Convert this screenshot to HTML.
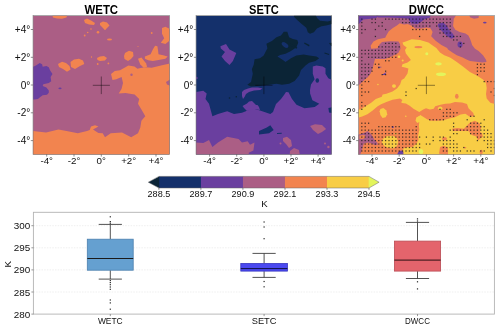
<!DOCTYPE html>
<html><head><meta charset="utf-8"><style>
html,body{margin:0;padding:0;background:#fff;}
svg{display:block;will-change:transform;transform:translateZ(0);}
text{font-family:"Liberation Sans",sans-serif;}
</style></head><body>
<svg width="500" height="329" viewBox="0 0 500 329" shape-rendering="geometricPrecision">
<rect width="500" height="329" fill="#fff"/>
<defs>
<clipPath id="cp0"><rect x="33.05" y="15.65" width="136.6" height="138.79999999999998"/></clipPath>
<clipPath id="cp1"><rect x="196.05" y="15.65" width="135.6" height="138.79999999999998"/></clipPath>
<clipPath id="cp2"><rect x="358.4" y="15.65" width="136.0" height="138.79999999999998"/></clipPath>
</defs>
<g clip-path="url(#cp0)">
<rect x="33.05" y="15.65" width="136.6" height="138.79999999999998" fill="#ab5e85"/>
<polygon points="111.0,74.0 114.8,71.0 120.0,70.2 125.4,67.2 128.4,65.6 134.5,66.4 137.5,68.7 140.6,68.0 145.0,67.2 151.7,67.8 163.0,64.9 171.0,63.3 171.0,156.0 32.0,156.0 32.0,131.0 46.0,132.6 58.5,129.4 66.5,131.0 77.9,133.3 87.0,131.0 89.7,129.9 91.0,126.4 95.0,125.3 98.4,126.4 93.0,129.5 98.4,133.0 102.7,133.3 105.0,137.2 110.7,133.3 122.0,132.6 131.2,137.2 138.0,133.3 140.3,127.6 141.4,120.8 145.3,116.2 142.6,111.6 138.0,103.7 139.2,99.1 134.6,94.5 125.5,93.0 118.7,93.5 121.5,89.0 123.0,83.0 121.6,77.0 116.3,79.3 112.5,80.0" fill="#f2844f" />
<ellipse cx="131.5" cy="74.8" rx="1.2" ry="1.2" fill="#ab5e85"/>
<polygon points="166.0,82.0 171.0,79.0 171.0,86.0 167.0,84.5" fill="#ab5e85" />
<polygon points="52.0,14.0 67.5,14.0 66.5,17.5 62.0,18.8 57.0,18.6 53.0,17.5" fill="#f2844f" />
<polygon points="84.0,20.0 87.0,18.5 91.0,20.5 95.0,23.0 94.0,25.0 89.0,24.5 85.0,23.0" fill="#f2844f" />
<polygon points="100.0,23.0 103.0,21.6 107.0,22.5 109.5,25.5 107.0,28.0 105.0,30.2 102.0,27.0 100.0,25.0" fill="#f2844f" />
<ellipse cx="98" cy="32.3" rx="1.3" ry="1.3" fill="#f2844f"/>
<ellipse cx="91" cy="29" rx="0.8" ry="0.8" fill="#f2844f"/>
<ellipse cx="87.7" cy="32.5" rx="0.8" ry="0.8" fill="#f2844f"/>
<ellipse cx="84.7" cy="35.5" rx="0.9" ry="0.9" fill="#f2844f"/>
<ellipse cx="151.7" cy="33" rx="0.9" ry="0.9" fill="#f2844f"/>
<ellipse cx="138" cy="46.6" rx="0.5" ry="0.5" fill="#f2844f"/>
<ellipse cx="108.4" cy="63.4" rx="0.9" ry="0.9" fill="#f2844f"/>
<ellipse cx="91.5" cy="57" rx="0.7" ry="0.7" fill="#f2844f"/>
<ellipse cx="97.7" cy="64" rx="0.9" ry="0.9" fill="#f2844f"/>
<ellipse cx="109.5" cy="39.4" rx="2.5" ry="1" fill="#f2844f"/>
<polygon points="162.0,28.0 165.4,26.8 171.0,29.5 171.0,39.4 165.4,43.9 160.8,42.8 164.2,38.2 162.0,33.7" fill="#f2844f" />
<polygon points="125.0,53.0 129.0,50.7 133.0,52.0 133.5,56.0 131.0,59.0 128.0,61.0 124.5,59.0 124.0,56.0" fill="#f2844f" />
<polygon points="97.0,58.0 100.0,56.5 104.0,56.0 107.0,58.0 105.0,60.5 100.0,61.0 97.5,60.0" fill="#f2844f" />
<polygon points="138.0,58.7 141.4,57.6 146.0,63.3 147.1,66.7 143.7,67.8 140.3,64.4" fill="#f2844f" />
<polygon points="144.9,56.5 150.6,54.2 152.8,49.6 155.1,45.7 157.4,46.2 158.1,50.8 158.5,54.2 163.1,55.3 167.7,56.5 165.4,58.7 158.5,59.9 152.8,61.0 148.3,60.3 144.9,58.7" fill="#f2844f" />
<polygon points="58.0,64.0 62.0,61.7 66.0,63.0 69.5,66.0 70.6,69.5 67.0,71.7 63.0,69.0 59.0,67.0" fill="#f2844f" />
<polygon points="70.5,62.0 74.0,59.5 79.0,58.7 83.0,60.5 84.3,64.0 80.0,66.0 75.0,69.0 71.0,67.0" fill="#f2844f" />
<polygon points="32.0,67.3 35.0,66.0 37.9,64.3 39.7,63.0 42.1,64.3 42.7,66.7 46.4,66.0 48.8,67.3 50.0,70.3 52.5,74.0 50.6,77.0 51.2,81.3 48.8,83.1 43.3,84.3 42.7,86.1 46.4,87.4 48.8,90.4 48.8,92.8 47.0,94.7 42.7,95.3 40.3,97.1 37.9,98.9 34.2,99.5 32.0,99.5" fill="#6a3f9f" />
<ellipse cx="60" cy="88.4" rx="1.6" ry="0.8" fill="#6a3f9f"/>
</g>
<g clip-path="url(#cp1)">
<rect x="196.05" y="15.65" width="135.6" height="138.79999999999998" fill="#14306b"/>
<polygon points="281.0,35.5 283.8,31.8 287.3,31.8 289.1,37.3 292.8,39.1 297.3,40.0 298.2,42.8 296.4,47.3 291.0,51.0 285.5,53.7 280.1,55.0 277.4,56.4 282.9,60.0 285.5,61.9 291.0,58.2 296.4,55.5 303.7,54.6 309.1,55.5 316.4,56.4 319.2,58.2 315.5,61.0 309.1,62.8 305.5,65.5 301.0,70.0 299.1,75.5 294.6,81.0 289.1,83.7 282.0,84.7 276.5,83.8 269.2,84.7 261.9,85.6 251.0,86.5 247.3,84.7 251.0,82.0 252.8,73.8 251.9,69.2 253.7,64.7 254.6,59.2 260.0,58.3 263.7,55.5 267.4,48.2 266.4,43.7 271.9,41.0 276.5,37.3" fill="#0b2436" />
<ellipse cx="285" cy="45" rx="3.8" ry="2.0" fill="#14306b" transform="rotate(35 285 45)"/>
<polygon points="294.1,14.0 315.4,14.0 317.0,18.0 320.0,20.8 327.6,21.6 330.6,20.8 331.5,14.0 334.0,14.0 334.0,23.5 326.0,25.4 321.5,26.2 316.9,28.4 313.9,32.2 310.0,33.8 307.8,32.2 306.3,27.7 301.7,23.9 297.2,20.1 294.1,17.0" fill="#0b2436" />
<polygon points="304.6,42.4 309.5,45.0 309.0,46.5 304.0,43.5" fill="#0b2436" />
<polygon points="324.6,52.6 329.2,54.0 329.0,55.0 324.4,53.6" fill="#0b2436" />
<polygon points="329.0,43.0 333.0,42.8 333.0,46.4 331.0,46.0" fill="#0b2436" />
<polygon points="290.0,43.6 297.3,47.5 296.5,48.8 290.0,45.5" fill="#0b2436" />
<polygon points="194.0,92.3 203.3,90.7 206.7,93.4 205.5,99.1 209.0,103.7 212.4,116.2 218.0,113.9 227.2,111.2 234.0,113.9 242.0,112.8 247.7,110.5 252.3,108.2 260.0,110.5 270.3,113.9 273.0,112.0 276.0,104.0 281.0,99.0 284.0,95.0 286.0,92.0 288.5,92.3 292.0,99.0 296.5,104.8 304.5,108.2 314.7,107.0 319.3,103.7 312.4,100.2 310.1,93.4 310.0,90.0 311.0,84.6 314.6,79.2 312.8,73.7 312.8,66.4 316.4,65.5 322.8,66.4 325.5,68.2 325.5,73.7 328.3,78.3 332.0,80.0 334.0,80.0 334.0,156.0 194.0,156.0" fill="#6a3f9f" />
<ellipse cx="317.3" cy="80.5" rx="1.8" ry="2.2" fill="#14306b"/>
<polygon points="220.4,46.2 226.0,43.9 229.5,49.6 236.3,53.0 232.9,61.0 229.5,64.9 225.0,61.0 221.5,56.4 225.0,51.9 220.8,48.5" fill="#6a3f9f" />
<ellipse cx="196.4" cy="78" rx="1.2" ry="1.2" fill="#6a3f9f"/>
<polygon points="242.0,92.0 244.0,90.0 248.0,88.5 252.0,87.5 258.0,87.5 262.5,88.5 260.0,90.0 254.0,90.5 249.0,92.0 246.0,94.0 244.5,97.0 243.0,99.0 242.0,96.0" fill="#6a3f9f" />
<polygon points="242.5,106.0 247.0,103.5 249.0,101.5 252.0,101.0 254.0,103.0 256.0,105.0 257.5,105.0 259.0,107.0 260.0,110.0 254.0,109.0 247.0,111.0 244.0,108.0" fill="#6a3f9f" />
<polygon points="328.4,108.0 333.0,107.0 333.0,113.0 329.0,112.5" fill="#14306b" />
<polygon points="259.0,131.0 266.8,127.6 270.3,125.3 273.7,129.9 269.1,133.3 259.0,134.4" fill="#14306b" />
<polygon points="277.0,133.0 281.7,132.8 281.7,133.8 277.0,134.0" fill="#14306b" />
<ellipse cx="229.5" cy="98" rx="0.8" ry="0.8" fill="#0b2436"/>
<ellipse cx="236.3" cy="96.8" rx="0.8" ry="0.8" fill="#0b2436"/>
<polygon points="194.0,142.4 203.3,143.0 209.0,140.1 212.4,147.0 218.0,142.4 227.2,136.7 238.6,139.0 242.0,142.4 247.7,141.3 250.0,144.7 254.5,142.4 253.4,150.4 248.8,152.7 248.8,156.0 194.0,156.0" fill="#ab5e85" />
<polygon points="310.1,126.0 315.0,124.2 322.0,125.0 326.1,129.0 322.0,132.0 318.0,134.0 313.0,130.0" fill="#ab5e85" />
<polygon points="283.0,138.0 287.0,136.7 291.0,140.0 292.0,146.0 289.0,148.0 286.0,144.0 283.0,141.0" fill="#ab5e85" />
<polygon points="290.0,151.0 294.0,148.0 299.0,150.0 300.0,156.0 289.6,156.0" fill="#ab5e85" />
<ellipse cx="280.5" cy="143.5" rx="1" ry="1" fill="#ab5e85"/>
<ellipse cx="325" cy="143.5" rx="1" ry="1" fill="#ab5e85"/>
<ellipse cx="328.4" cy="147" rx="1.2" ry="1.2" fill="#ab5e85"/>
</g>
<g clip-path="url(#cp2)">
<rect x="358.4" y="15.65" width="136.0" height="138.79999999999998" fill="#f2844f"/>
<polygon points="402.5,42.5 405.0,41.7 411.7,39.2 420.0,40.0 428.4,42.5 431.2,44.4 436.3,48.0 440.0,52.4 444.3,55.3 450.0,57.5 452.4,59.0 456.8,62.0 462.6,66.3 469.9,72.1 477.2,75.8 483.0,79.4 486.0,83.0 486.7,88.2 486.0,94.0 486.7,98.4 490.3,102.8 496.0,104.2 496.0,156.0 402.0,156.0 403.4,148.5 407.2,147.2 412.3,147.2 416.2,144.0 418.5,140.0 418.0,136.0 419.3,130.0 418.8,126.0 419.3,122.1 417.4,123.0 415.5,120.7 416.4,117.3 420.3,114.9 419.3,112.0 417.4,111.0 413.5,108.7 409.7,105.8 405.8,103.4 402.0,102.9 401.2,102.3 402.4,99.9 400.0,98.6 397.0,99.0 392.5,99.8 386.4,102.0 381.1,104.3 377.3,106.6 372.7,110.4 367.4,114.2 362.1,116.5 357.0,118.0 357.0,109.6 360.6,109.6 365.1,106.6 371.2,102.8 375.8,99.0 381.8,96.7 382.6,94.4 386.4,93.7 392.5,91.4 397.0,88.4 400.1,84.6 401.6,80.0 404.2,78.5 407.5,73.5 408.4,68.4 405.0,67.6 401.7,66.8 402.5,64.3 407.5,62.6 410.9,60.0 408.4,56.7 405.9,53.4 405.0,50.0 406.7,47.5 403.4,45.0" fill="#f8cd45" />
<polygon points="380.4,108.9 383.4,108.1 386.4,110.4 387.2,114.2 385.7,117.2 382.6,118.0 380.4,115.0 379.6,111.2" fill="#f8cd45" />
<polygon points="382.9,138.9 386.7,136.3 393.1,135.7 397.0,138.2 398.2,142.0 397.0,145.9 393.1,148.5 388.0,147.8 384.2,145.9 381.6,142.0" fill="#f8cd45" />
<ellipse cx="395.7" cy="133.7" rx="1.3" ry="0.8" fill="#f8cd45"/>
<ellipse cx="377.9" cy="84.5" rx="0.8" ry="0.8" fill="#f8cd45"/>
<ellipse cx="399" cy="56.8" rx="1.3" ry="1.2" fill="#f8cd45"/>
<ellipse cx="402.7" cy="60.4" rx="1" ry="1" fill="#f8cd45"/>
<ellipse cx="394" cy="86.1" rx="2" ry="1.8" fill="#f8cd45"/>
<polygon points="414.0,113.0 419.3,112.0 423.2,109.6 426.0,108.2 429.9,109.6 433.7,108.7 435.2,106.3 440.5,104.8 445.3,103.8 450.0,103.4 455.0,102.0 462.0,102.5 467.0,104.0 468.5,108.2 473.3,112.9 474.0,116.0 470.1,116.9 465.4,113.7 460.6,114.5 454.3,117.6 450.0,118.3 443.3,120.2 438.5,120.7 430.8,120.7 427.0,119.2 423.2,116.8 420.3,114.9 416.4,117.3 414.0,117.0" fill="#f2844f" />
<ellipse cx="440.2" cy="108.2" rx="2.2" ry="1.8" fill="#f8cd45"/>
<ellipse cx="405.8" cy="116.3" rx="0.8" ry="0.8" fill="#f8cd45"/>
<polygon points="452.0,128.7 457.5,127.9 463.8,128.7 467.0,125.5 470.1,122.4 474.9,120.8 479.6,123.2 481.2,127.9 479.6,131.0 482.0,133.4 482.8,136.6 479.6,139.0 478.0,140.6 476.4,136.6 471.7,135.0 468.5,131.0 460.6,131.0 452.7,131.0" fill="#f2844f" />
<ellipse cx="456.8" cy="96.2" rx="1.8" ry="2.5" fill="#f2844f"/>
<ellipse cx="444.5" cy="138.8" rx="2.5" ry="1.8" fill="#f2844f"/>
<ellipse cx="465" cy="147.8" rx="1.3" ry="0.8" fill="#f2844f"/>
<ellipse cx="481.2" cy="152" rx="1.6" ry="2.2" fill="#f2844f"/>
<ellipse cx="418.4" cy="47.1" rx="4" ry="1.2" fill="#f2844f"/>
<polygon points="439.0,153.8 440.0,147.0 444.0,145.8 448.0,148.0 448.0,155.0" fill="#f2844f" />
<ellipse cx="426.8" cy="53.8" rx="1.5" ry="1.5" fill="#e3f55c"/>
<ellipse cx="438.5" cy="63.8" rx="3.2" ry="1.6" fill="#e3f55c"/>
<ellipse cx="441" cy="74.3" rx="5" ry="1.8" fill="#e3f55c"/>
<ellipse cx="421" cy="151.5" rx="2.3" ry="2.5" fill="#e3f55c"/>
<polygon points="357.0,14.0 457.0,14.0 453.8,18.8 453.1,26.1 455.3,29.8 459.7,32.0 465.5,33.4 468.4,35.6 469.9,38.5 471.3,42.2 472.1,45.1 475.0,48.7 478.6,51.0 483.0,55.3 486.0,59.7 486.5,62.0 482.3,62.6 470.0,61.0 467.0,59.7 462.6,57.5 456.8,55.3 452.4,52.4 448.0,49.5 447.2,48.0 441.4,45.1 435.6,40.7 431.2,36.3 432.6,32.0 430.5,28.3 426.8,27.5 421.0,28.6 415.1,28.6 412.2,26.0 407.8,24.0 404.0,24.5 399.8,23.2 396.9,25.4 392.5,28.3 388.8,31.2 386.6,34.9 385.2,37.8 377.9,39.3 373.5,41.5 370.6,45.8 371.3,48.7 377.5,48.3 379.0,45.0 382.0,42.0 390.0,41.3 398.5,41.5 400.0,44.0 400.5,48.8 398.3,53.1 392.5,56.0 385.2,59.0 375.0,59.0 374.2,61.9 372.8,67.8 370.6,73.6 367.7,77.2 364.8,79.4 361.8,82.3 359.6,84.5 357.0,85.5" fill="#ab5e85" />
<polygon points="469.0,14.0 479.0,14.0 478.5,18.0 474.0,18.8 470.0,17.2" fill="#ab5e85" />
<polygon points="357.0,14.0 379.3,14.0 376.4,18.1 370.6,18.8 363.3,19.6 358.9,24.0 357.0,24.0" fill="#6a3f9f" />
<polygon points="375.0,14.0 410.6,14.0 410.6,19.0 404.0,18.2 395.0,17.8 388.0,17.4 378.0,17.6" fill="#6a3f9f" />
<polygon points="408.5,14.0 431.0,14.0 430.0,17.5 424.0,19.5 421.0,22.0 417.0,24.0 411.5,23.5 409.0,20.5" fill="#6a3f9f" />
<polygon points="438.2,23.8 443.0,22.6 446.6,25.6 449.0,29.8 452.6,33.4 455.0,37.0 451.4,38.8 446.6,35.8 443.0,32.2 439.4,28.6 437.6,25.6" fill="#6a3f9f" />
<ellipse cx="460" cy="44.4" rx="2.5" ry="3" fill="#6a3f9f"/>
<ellipse cx="484.8" cy="22.6" rx="1.8" ry="0.9" fill="#6a3f9f"/>
<polygon points="357.0,135.0 362.0,133.5 365.5,132.2 367.7,131.1 370.6,133.6 372.8,136.6 374.2,139.5 377.2,142.4 377.9,144.6 375.0,145.3 372.8,143.9 368.0,142.6 364.0,143.5 363.0,146.0 362.0,150.0 360.0,155.0 357.0,155.0" fill="#ab5e85" />
<polygon points="359.5,135.5 364.5,135.0 365.5,137.5 363.0,139.0 359.5,138.8" fill="#f2844f" />
<ellipse cx="392.8" cy="127.1" rx="1.2" ry="0.8" fill="#6a3f9f"/>
<polygon points="397.0,154.5 399.0,151.0 402.0,150.4 403.4,152.0 403.4,154.5" fill="#6a3f9f" />
<polygon points="378.0,66.5 382.0,67.0 378.5,68.0" fill="#6a3f9f" />
<polygon points="381.5,75.0 386.6,72.0 385.0,75.0" fill="#6a3f9f" />
<rect x="361.18" y="18.50" width="1.25" height="1.25" fill="#1a1a1a" opacity="0.8"/>
<rect x="371.38" y="18.50" width="1.25" height="1.25" fill="#1a1a1a" opacity="0.8"/>
<rect x="374.78" y="18.50" width="1.25" height="1.25" fill="#1a1a1a" opacity="0.8"/>
<rect x="384.98" y="18.50" width="1.25" height="1.25" fill="#1a1a1a" opacity="0.8"/>
<rect x="388.38" y="18.50" width="1.25" height="1.25" fill="#1a1a1a" opacity="0.8"/>
<rect x="391.78" y="18.50" width="1.25" height="1.25" fill="#1a1a1a" opacity="0.8"/>
<rect x="395.18" y="18.50" width="1.25" height="1.25" fill="#1a1a1a" opacity="0.8"/>
<rect x="398.58" y="18.50" width="1.25" height="1.25" fill="#1a1a1a" opacity="0.8"/>
<rect x="401.98" y="18.50" width="1.25" height="1.25" fill="#1a1a1a" opacity="0.8"/>
<rect x="405.38" y="18.50" width="1.25" height="1.25" fill="#1a1a1a" opacity="0.8"/>
<rect x="408.78" y="18.50" width="1.25" height="1.25" fill="#1a1a1a" opacity="0.8"/>
<rect x="412.18" y="18.50" width="1.25" height="1.25" fill="#1a1a1a" opacity="0.8"/>
<rect x="415.58" y="18.50" width="1.25" height="1.25" fill="#1a1a1a" opacity="0.8"/>
<rect x="418.98" y="18.50" width="1.25" height="1.25" fill="#1a1a1a" opacity="0.8"/>
<rect x="422.38" y="18.50" width="1.25" height="1.25" fill="#1a1a1a" opacity="0.8"/>
<rect x="425.78" y="18.50" width="1.25" height="1.25" fill="#1a1a1a" opacity="0.8"/>
<rect x="429.18" y="18.50" width="1.25" height="1.25" fill="#1a1a1a" opacity="0.8"/>
<rect x="432.58" y="18.50" width="1.25" height="1.25" fill="#1a1a1a" opacity="0.8"/>
<rect x="435.98" y="18.50" width="1.25" height="1.25" fill="#1a1a1a" opacity="0.8"/>
<rect x="439.38" y="18.50" width="1.25" height="1.25" fill="#1a1a1a" opacity="0.8"/>
<rect x="442.78" y="18.50" width="1.25" height="1.25" fill="#1a1a1a" opacity="0.8"/>
<rect x="446.18" y="18.50" width="1.25" height="1.25" fill="#1a1a1a" opacity="0.8"/>
<rect x="449.58" y="18.50" width="1.25" height="1.25" fill="#1a1a1a" opacity="0.8"/>
<rect x="361.18" y="21.97" width="1.25" height="1.25" fill="#1a1a1a" opacity="0.8"/>
<rect x="371.38" y="21.97" width="1.25" height="1.25" fill="#1a1a1a" opacity="0.8"/>
<rect x="374.78" y="21.97" width="1.25" height="1.25" fill="#1a1a1a" opacity="0.8"/>
<rect x="381.58" y="21.97" width="1.25" height="1.25" fill="#1a1a1a" opacity="0.8"/>
<rect x="401.98" y="21.97" width="1.25" height="1.25" fill="#1a1a1a" opacity="0.8"/>
<rect x="405.38" y="21.97" width="1.25" height="1.25" fill="#1a1a1a" opacity="0.8"/>
<rect x="408.78" y="21.97" width="1.25" height="1.25" fill="#1a1a1a" opacity="0.8"/>
<rect x="412.18" y="21.97" width="1.25" height="1.25" fill="#1a1a1a" opacity="0.8"/>
<rect x="415.58" y="21.97" width="1.25" height="1.25" fill="#1a1a1a" opacity="0.8"/>
<rect x="418.98" y="21.97" width="1.25" height="1.25" fill="#1a1a1a" opacity="0.8"/>
<rect x="422.38" y="21.97" width="1.25" height="1.25" fill="#1a1a1a" opacity="0.8"/>
<rect x="425.78" y="21.97" width="1.25" height="1.25" fill="#1a1a1a" opacity="0.8"/>
<rect x="429.18" y="21.97" width="1.25" height="1.25" fill="#1a1a1a" opacity="0.8"/>
<rect x="432.58" y="21.97" width="1.25" height="1.25" fill="#1a1a1a" opacity="0.8"/>
<rect x="435.98" y="21.97" width="1.25" height="1.25" fill="#1a1a1a" opacity="0.8"/>
<rect x="439.38" y="21.97" width="1.25" height="1.25" fill="#1a1a1a" opacity="0.8"/>
<rect x="442.78" y="21.97" width="1.25" height="1.25" fill="#1a1a1a" opacity="0.8"/>
<rect x="446.18" y="21.97" width="1.25" height="1.25" fill="#1a1a1a" opacity="0.8"/>
<rect x="449.58" y="21.97" width="1.25" height="1.25" fill="#1a1a1a" opacity="0.8"/>
<rect x="361.18" y="25.44" width="1.25" height="1.25" fill="#1a1a1a" opacity="0.8"/>
<rect x="378.18" y="25.44" width="1.25" height="1.25" fill="#1a1a1a" opacity="0.8"/>
<rect x="381.58" y="25.44" width="1.25" height="1.25" fill="#1a1a1a" opacity="0.8"/>
<rect x="412.18" y="25.44" width="1.25" height="1.25" fill="#1a1a1a" opacity="0.8"/>
<rect x="415.58" y="25.44" width="1.25" height="1.25" fill="#1a1a1a" opacity="0.8"/>
<rect x="418.98" y="25.44" width="1.25" height="1.25" fill="#1a1a1a" opacity="0.8"/>
<rect x="422.38" y="25.44" width="1.25" height="1.25" fill="#1a1a1a" opacity="0.8"/>
<rect x="425.78" y="25.44" width="1.25" height="1.25" fill="#1a1a1a" opacity="0.8"/>
<rect x="429.18" y="25.44" width="1.25" height="1.25" fill="#1a1a1a" opacity="0.8"/>
<rect x="435.98" y="25.44" width="1.25" height="1.25" fill="#1a1a1a" opacity="0.8"/>
<rect x="439.38" y="25.44" width="1.25" height="1.25" fill="#1a1a1a" opacity="0.8"/>
<rect x="442.78" y="25.44" width="1.25" height="1.25" fill="#1a1a1a" opacity="0.8"/>
<rect x="446.18" y="25.44" width="1.25" height="1.25" fill="#1a1a1a" opacity="0.8"/>
<rect x="449.58" y="25.44" width="1.25" height="1.25" fill="#1a1a1a" opacity="0.8"/>
<rect x="361.18" y="28.91" width="1.25" height="1.25" fill="#1a1a1a" opacity="0.8"/>
<rect x="364.58" y="28.91" width="1.25" height="1.25" fill="#1a1a1a" opacity="0.8"/>
<rect x="374.78" y="28.91" width="1.25" height="1.25" fill="#1a1a1a" opacity="0.8"/>
<rect x="384.98" y="28.91" width="1.25" height="1.25" fill="#1a1a1a" opacity="0.8"/>
<rect x="412.18" y="28.91" width="1.25" height="1.25" fill="#1a1a1a" opacity="0.8"/>
<rect x="415.58" y="28.91" width="1.25" height="1.25" fill="#1a1a1a" opacity="0.8"/>
<rect x="418.98" y="28.91" width="1.25" height="1.25" fill="#1a1a1a" opacity="0.8"/>
<rect x="422.38" y="28.91" width="1.25" height="1.25" fill="#1a1a1a" opacity="0.8"/>
<rect x="425.78" y="28.91" width="1.25" height="1.25" fill="#1a1a1a" opacity="0.8"/>
<rect x="439.38" y="28.91" width="1.25" height="1.25" fill="#1a1a1a" opacity="0.8"/>
<rect x="442.78" y="28.91" width="1.25" height="1.25" fill="#1a1a1a" opacity="0.8"/>
<rect x="446.18" y="28.91" width="1.25" height="1.25" fill="#1a1a1a" opacity="0.8"/>
<rect x="449.58" y="28.91" width="1.25" height="1.25" fill="#1a1a1a" opacity="0.8"/>
<rect x="361.18" y="32.38" width="1.25" height="1.25" fill="#1a1a1a" opacity="0.8"/>
<rect x="439.38" y="32.38" width="1.25" height="1.25" fill="#1a1a1a" opacity="0.8"/>
<rect x="442.78" y="32.38" width="1.25" height="1.25" fill="#1a1a1a" opacity="0.8"/>
<rect x="446.18" y="32.38" width="1.25" height="1.25" fill="#1a1a1a" opacity="0.8"/>
<rect x="449.58" y="32.38" width="1.25" height="1.25" fill="#1a1a1a" opacity="0.8"/>
<rect x="374.78" y="35.85" width="1.25" height="1.25" fill="#1a1a1a" opacity="0.8"/>
<rect x="418.98" y="35.85" width="1.25" height="1.25" fill="#1a1a1a" opacity="0.8"/>
<rect x="442.78" y="35.85" width="1.25" height="1.25" fill="#1a1a1a" opacity="0.8"/>
<rect x="446.18" y="35.85" width="1.25" height="1.25" fill="#1a1a1a" opacity="0.8"/>
<rect x="449.58" y="35.85" width="1.25" height="1.25" fill="#1a1a1a" opacity="0.8"/>
<rect x="452.98" y="35.85" width="1.25" height="1.25" fill="#1a1a1a" opacity="0.8"/>
<rect x="456.38" y="35.85" width="1.25" height="1.25" fill="#1a1a1a" opacity="0.8"/>
<rect x="459.78" y="35.85" width="1.25" height="1.25" fill="#1a1a1a" opacity="0.8"/>
<rect x="452.98" y="39.32" width="1.25" height="1.25" fill="#1a1a1a" opacity="0.8"/>
<rect x="456.38" y="39.32" width="1.25" height="1.25" fill="#1a1a1a" opacity="0.8"/>
<rect x="384.98" y="42.79" width="1.25" height="1.25" fill="#1a1a1a" opacity="0.8"/>
<rect x="388.38" y="42.79" width="1.25" height="1.25" fill="#1a1a1a" opacity="0.8"/>
<rect x="391.78" y="42.79" width="1.25" height="1.25" fill="#1a1a1a" opacity="0.8"/>
<rect x="395.18" y="42.79" width="1.25" height="1.25" fill="#1a1a1a" opacity="0.8"/>
<rect x="459.78" y="42.79" width="1.25" height="1.25" fill="#1a1a1a" opacity="0.8"/>
<rect x="463.18" y="42.79" width="1.25" height="1.25" fill="#1a1a1a" opacity="0.8"/>
<rect x="378.18" y="46.26" width="1.25" height="1.25" fill="#1a1a1a" opacity="0.8"/>
<rect x="381.58" y="46.26" width="1.25" height="1.25" fill="#1a1a1a" opacity="0.8"/>
<rect x="384.98" y="46.26" width="1.25" height="1.25" fill="#1a1a1a" opacity="0.8"/>
<rect x="388.38" y="46.26" width="1.25" height="1.25" fill="#1a1a1a" opacity="0.8"/>
<rect x="391.78" y="46.26" width="1.25" height="1.25" fill="#1a1a1a" opacity="0.8"/>
<rect x="395.18" y="46.26" width="1.25" height="1.25" fill="#1a1a1a" opacity="0.8"/>
<rect x="398.58" y="46.26" width="1.25" height="1.25" fill="#1a1a1a" opacity="0.8"/>
<rect x="459.78" y="46.26" width="1.25" height="1.25" fill="#1a1a1a" opacity="0.8"/>
<rect x="361.18" y="49.73" width="1.25" height="1.25" fill="#1a1a1a" opacity="0.8"/>
<rect x="364.58" y="49.73" width="1.25" height="1.25" fill="#1a1a1a" opacity="0.8"/>
<rect x="367.98" y="49.73" width="1.25" height="1.25" fill="#1a1a1a" opacity="0.8"/>
<rect x="371.38" y="49.73" width="1.25" height="1.25" fill="#1a1a1a" opacity="0.8"/>
<rect x="374.78" y="49.73" width="1.25" height="1.25" fill="#1a1a1a" opacity="0.8"/>
<rect x="378.18" y="49.73" width="1.25" height="1.25" fill="#1a1a1a" opacity="0.8"/>
<rect x="381.58" y="49.73" width="1.25" height="1.25" fill="#1a1a1a" opacity="0.8"/>
<rect x="384.98" y="49.73" width="1.25" height="1.25" fill="#1a1a1a" opacity="0.8"/>
<rect x="388.38" y="49.73" width="1.25" height="1.25" fill="#1a1a1a" opacity="0.8"/>
<rect x="391.78" y="49.73" width="1.25" height="1.25" fill="#1a1a1a" opacity="0.8"/>
<rect x="395.18" y="49.73" width="1.25" height="1.25" fill="#1a1a1a" opacity="0.8"/>
<rect x="361.18" y="53.20" width="1.25" height="1.25" fill="#1a1a1a" opacity="0.8"/>
<rect x="364.58" y="53.20" width="1.25" height="1.25" fill="#1a1a1a" opacity="0.8"/>
<rect x="367.98" y="53.20" width="1.25" height="1.25" fill="#1a1a1a" opacity="0.8"/>
<rect x="371.38" y="53.20" width="1.25" height="1.25" fill="#1a1a1a" opacity="0.8"/>
<rect x="374.78" y="53.20" width="1.25" height="1.25" fill="#1a1a1a" opacity="0.8"/>
<rect x="378.18" y="53.20" width="1.25" height="1.25" fill="#1a1a1a" opacity="0.8"/>
<rect x="381.58" y="53.20" width="1.25" height="1.25" fill="#1a1a1a" opacity="0.8"/>
<rect x="384.98" y="53.20" width="1.25" height="1.25" fill="#1a1a1a" opacity="0.8"/>
<rect x="388.38" y="53.20" width="1.25" height="1.25" fill="#1a1a1a" opacity="0.8"/>
<rect x="391.78" y="53.20" width="1.25" height="1.25" fill="#1a1a1a" opacity="0.8"/>
<rect x="395.18" y="53.20" width="1.25" height="1.25" fill="#1a1a1a" opacity="0.8"/>
<rect x="361.18" y="56.67" width="1.25" height="1.25" fill="#1a1a1a" opacity="0.8"/>
<rect x="367.98" y="56.67" width="1.25" height="1.25" fill="#1a1a1a" opacity="0.8"/>
<rect x="371.38" y="56.67" width="1.25" height="1.25" fill="#1a1a1a" opacity="0.8"/>
<rect x="374.78" y="56.67" width="1.25" height="1.25" fill="#1a1a1a" opacity="0.8"/>
<rect x="378.18" y="56.67" width="1.25" height="1.25" fill="#1a1a1a" opacity="0.8"/>
<rect x="381.58" y="56.67" width="1.25" height="1.25" fill="#1a1a1a" opacity="0.8"/>
<rect x="384.98" y="56.67" width="1.25" height="1.25" fill="#1a1a1a" opacity="0.8"/>
<rect x="388.38" y="56.67" width="1.25" height="1.25" fill="#1a1a1a" opacity="0.8"/>
<rect x="391.78" y="56.67" width="1.25" height="1.25" fill="#1a1a1a" opacity="0.8"/>
<rect x="395.18" y="56.67" width="1.25" height="1.25" fill="#1a1a1a" opacity="0.8"/>
<rect x="384.98" y="60.14" width="1.25" height="1.25" fill="#1a1a1a" opacity="0.8"/>
<rect x="361.18" y="60.14" width="1.25" height="1.25" fill="#1a1a1a" opacity="0.8"/>
<rect x="388.38" y="60.14" width="1.25" height="1.25" fill="#1a1a1a" opacity="0.8"/>
<rect x="361.18" y="63.61" width="1.25" height="1.25" fill="#1a1a1a" opacity="0.8"/>
<rect x="364.58" y="63.61" width="1.25" height="1.25" fill="#1a1a1a" opacity="0.8"/>
<rect x="367.98" y="63.61" width="1.25" height="1.25" fill="#1a1a1a" opacity="0.8"/>
<rect x="476.78" y="63.61" width="1.25" height="1.25" fill="#1a1a1a" opacity="0.8"/>
<rect x="374.78" y="63.61" width="1.25" height="1.25" fill="#1a1a1a" opacity="0.8"/>
<rect x="378.18" y="63.61" width="1.25" height="1.25" fill="#1a1a1a" opacity="0.8"/>
<rect x="480.18" y="63.61" width="1.25" height="1.25" fill="#1a1a1a" opacity="0.8"/>
<rect x="483.58" y="63.61" width="1.25" height="1.25" fill="#1a1a1a" opacity="0.8"/>
<rect x="361.18" y="67.08" width="1.25" height="1.25" fill="#1a1a1a" opacity="0.8"/>
<rect x="364.58" y="67.08" width="1.25" height="1.25" fill="#1a1a1a" opacity="0.8"/>
<rect x="367.98" y="67.08" width="1.25" height="1.25" fill="#1a1a1a" opacity="0.8"/>
<rect x="371.38" y="67.08" width="1.25" height="1.25" fill="#1a1a1a" opacity="0.8"/>
<rect x="476.78" y="67.08" width="1.25" height="1.25" fill="#1a1a1a" opacity="0.8"/>
<rect x="378.18" y="67.08" width="1.25" height="1.25" fill="#1a1a1a" opacity="0.8"/>
<rect x="480.18" y="67.08" width="1.25" height="1.25" fill="#1a1a1a" opacity="0.8"/>
<rect x="483.58" y="67.08" width="1.25" height="1.25" fill="#1a1a1a" opacity="0.8"/>
<rect x="361.18" y="70.55" width="1.25" height="1.25" fill="#1a1a1a" opacity="0.8"/>
<rect x="364.58" y="70.55" width="1.25" height="1.25" fill="#1a1a1a" opacity="0.8"/>
<rect x="367.98" y="70.55" width="1.25" height="1.25" fill="#1a1a1a" opacity="0.8"/>
<rect x="371.38" y="70.55" width="1.25" height="1.25" fill="#1a1a1a" opacity="0.8"/>
<rect x="476.78" y="70.55" width="1.25" height="1.25" fill="#1a1a1a" opacity="0.8"/>
<rect x="480.18" y="70.55" width="1.25" height="1.25" fill="#1a1a1a" opacity="0.8"/>
<rect x="483.58" y="70.55" width="1.25" height="1.25" fill="#1a1a1a" opacity="0.8"/>
<rect x="384.98" y="70.55" width="1.25" height="1.25" fill="#1a1a1a" opacity="0.8"/>
<rect x="361.18" y="74.02" width="1.25" height="1.25" fill="#1a1a1a" opacity="0.8"/>
<rect x="364.58" y="74.02" width="1.25" height="1.25" fill="#1a1a1a" opacity="0.8"/>
<rect x="367.98" y="74.02" width="1.25" height="1.25" fill="#1a1a1a" opacity="0.8"/>
<rect x="476.78" y="74.02" width="1.25" height="1.25" fill="#1a1a1a" opacity="0.8"/>
<rect x="381.58" y="74.02" width="1.25" height="1.25" fill="#1a1a1a" opacity="0.8"/>
<rect x="384.98" y="74.02" width="1.25" height="1.25" fill="#1a1a1a" opacity="0.8"/>
<rect x="361.18" y="77.49" width="1.25" height="1.25" fill="#1a1a1a" opacity="0.8"/>
<rect x="364.58" y="77.49" width="1.25" height="1.25" fill="#1a1a1a" opacity="0.8"/>
<rect x="361.18" y="80.96" width="1.25" height="1.25" fill="#1a1a1a" opacity="0.8"/>
<rect x="364.58" y="80.96" width="1.25" height="1.25" fill="#1a1a1a" opacity="0.8"/>
<rect x="367.98" y="80.96" width="1.25" height="1.25" fill="#1a1a1a" opacity="0.8"/>
<rect x="483.58" y="80.96" width="1.25" height="1.25" fill="#1a1a1a" opacity="0.8"/>
<rect x="486.98" y="80.96" width="1.25" height="1.25" fill="#1a1a1a" opacity="0.8"/>
<rect x="490.38" y="80.96" width="1.25" height="1.25" fill="#1a1a1a" opacity="0.8"/>
<rect x="493.78" y="80.96" width="1.25" height="1.25" fill="#1a1a1a" opacity="0.8"/>
<rect x="361.18" y="84.43" width="1.25" height="1.25" fill="#1a1a1a" opacity="0.8"/>
<rect x="493.78" y="87.90" width="1.25" height="1.25" fill="#1a1a1a" opacity="0.8"/>
<rect x="361.18" y="87.90" width="1.25" height="1.25" fill="#1a1a1a" opacity="0.8"/>
<rect x="415.58" y="87.90" width="1.25" height="1.25" fill="#1a1a1a" opacity="0.8"/>
<rect x="361.18" y="91.37" width="1.25" height="1.25" fill="#1a1a1a" opacity="0.8"/>
<rect x="364.58" y="91.37" width="1.25" height="1.25" fill="#1a1a1a" opacity="0.8"/>
<rect x="367.98" y="91.37" width="1.25" height="1.25" fill="#1a1a1a" opacity="0.8"/>
<rect x="490.38" y="91.37" width="1.25" height="1.25" fill="#1a1a1a" opacity="0.8"/>
<rect x="405.38" y="91.37" width="1.25" height="1.25" fill="#1a1a1a" opacity="0.8"/>
<rect x="493.78" y="94.84" width="1.25" height="1.25" fill="#1a1a1a" opacity="0.8"/>
<rect x="361.18" y="94.84" width="1.25" height="1.25" fill="#1a1a1a" opacity="0.8"/>
<rect x="405.38" y="94.84" width="1.25" height="1.25" fill="#1a1a1a" opacity="0.8"/>
<rect x="361.18" y="101.78" width="1.25" height="1.25" fill="#1a1a1a" opacity="0.8"/>
<rect x="361.18" y="105.25" width="1.25" height="1.25" fill="#1a1a1a" opacity="0.8"/>
<rect x="364.58" y="105.25" width="1.25" height="1.25" fill="#1a1a1a" opacity="0.8"/>
<rect x="439.38" y="108.72" width="1.25" height="1.25" fill="#1a1a1a" opacity="0.8"/>
<rect x="361.18" y="108.72" width="1.25" height="1.25" fill="#1a1a1a" opacity="0.8"/>
<rect x="446.18" y="108.72" width="1.25" height="1.25" fill="#1a1a1a" opacity="0.8"/>
<rect x="449.58" y="108.72" width="1.25" height="1.25" fill="#1a1a1a" opacity="0.8"/>
<rect x="442.78" y="112.19" width="1.25" height="1.25" fill="#1a1a1a" opacity="0.8"/>
<rect x="446.18" y="112.19" width="1.25" height="1.25" fill="#1a1a1a" opacity="0.8"/>
<rect x="449.58" y="112.19" width="1.25" height="1.25" fill="#1a1a1a" opacity="0.8"/>
<rect x="452.98" y="112.19" width="1.25" height="1.25" fill="#1a1a1a" opacity="0.8"/>
<rect x="456.38" y="112.19" width="1.25" height="1.25" fill="#1a1a1a" opacity="0.8"/>
<rect x="469.98" y="115.66" width="1.25" height="1.25" fill="#1a1a1a" opacity="0.8"/>
<rect x="473.38" y="115.66" width="1.25" height="1.25" fill="#1a1a1a" opacity="0.8"/>
<rect x="442.78" y="115.66" width="1.25" height="1.25" fill="#1a1a1a" opacity="0.8"/>
<rect x="446.18" y="115.66" width="1.25" height="1.25" fill="#1a1a1a" opacity="0.8"/>
<rect x="449.58" y="115.66" width="1.25" height="1.25" fill="#1a1a1a" opacity="0.8"/>
<rect x="452.98" y="115.66" width="1.25" height="1.25" fill="#1a1a1a" opacity="0.8"/>
<rect x="466.58" y="119.13" width="1.25" height="1.25" fill="#1a1a1a" opacity="0.8"/>
<rect x="483.58" y="119.13" width="1.25" height="1.25" fill="#1a1a1a" opacity="0.8"/>
<rect x="429.18" y="119.13" width="1.25" height="1.25" fill="#1a1a1a" opacity="0.8"/>
<rect x="432.58" y="119.13" width="1.25" height="1.25" fill="#1a1a1a" opacity="0.8"/>
<rect x="435.98" y="119.13" width="1.25" height="1.25" fill="#1a1a1a" opacity="0.8"/>
<rect x="439.38" y="119.13" width="1.25" height="1.25" fill="#1a1a1a" opacity="0.8"/>
<rect x="442.78" y="119.13" width="1.25" height="1.25" fill="#1a1a1a" opacity="0.8"/>
<rect x="361.18" y="122.60" width="1.25" height="1.25" fill="#1a1a1a" opacity="0.8"/>
<rect x="364.58" y="122.60" width="1.25" height="1.25" fill="#1a1a1a" opacity="0.8"/>
<rect x="367.98" y="122.60" width="1.25" height="1.25" fill="#1a1a1a" opacity="0.8"/>
<rect x="469.98" y="122.60" width="1.25" height="1.25" fill="#1a1a1a" opacity="0.8"/>
<rect x="473.38" y="122.60" width="1.25" height="1.25" fill="#1a1a1a" opacity="0.8"/>
<rect x="476.78" y="122.60" width="1.25" height="1.25" fill="#1a1a1a" opacity="0.8"/>
<rect x="480.18" y="122.60" width="1.25" height="1.25" fill="#1a1a1a" opacity="0.8"/>
<rect x="452.98" y="122.60" width="1.25" height="1.25" fill="#1a1a1a" opacity="0.8"/>
<rect x="466.58" y="126.07" width="1.25" height="1.25" fill="#1a1a1a" opacity="0.8"/>
<rect x="361.18" y="126.07" width="1.25" height="1.25" fill="#1a1a1a" opacity="0.8"/>
<rect x="364.58" y="126.07" width="1.25" height="1.25" fill="#1a1a1a" opacity="0.8"/>
<rect x="469.98" y="126.07" width="1.25" height="1.25" fill="#1a1a1a" opacity="0.8"/>
<rect x="473.38" y="126.07" width="1.25" height="1.25" fill="#1a1a1a" opacity="0.8"/>
<rect x="476.78" y="126.07" width="1.25" height="1.25" fill="#1a1a1a" opacity="0.8"/>
<rect x="378.18" y="126.07" width="1.25" height="1.25" fill="#1a1a1a" opacity="0.8"/>
<rect x="381.58" y="126.07" width="1.25" height="1.25" fill="#1a1a1a" opacity="0.8"/>
<rect x="384.98" y="126.07" width="1.25" height="1.25" fill="#1a1a1a" opacity="0.8"/>
<rect x="388.38" y="126.07" width="1.25" height="1.25" fill="#1a1a1a" opacity="0.8"/>
<rect x="391.78" y="126.07" width="1.25" height="1.25" fill="#1a1a1a" opacity="0.8"/>
<rect x="395.18" y="126.07" width="1.25" height="1.25" fill="#1a1a1a" opacity="0.8"/>
<rect x="398.58" y="126.07" width="1.25" height="1.25" fill="#1a1a1a" opacity="0.8"/>
<rect x="480.18" y="126.07" width="1.25" height="1.25" fill="#1a1a1a" opacity="0.8"/>
<rect x="483.58" y="126.07" width="1.25" height="1.25" fill="#1a1a1a" opacity="0.8"/>
<rect x="415.58" y="126.07" width="1.25" height="1.25" fill="#1a1a1a" opacity="0.8"/>
<rect x="452.98" y="126.07" width="1.25" height="1.25" fill="#1a1a1a" opacity="0.8"/>
<rect x="361.18" y="129.54" width="1.25" height="1.25" fill="#1a1a1a" opacity="0.8"/>
<rect x="364.58" y="129.54" width="1.25" height="1.25" fill="#1a1a1a" opacity="0.8"/>
<rect x="367.98" y="129.54" width="1.25" height="1.25" fill="#1a1a1a" opacity="0.8"/>
<rect x="371.38" y="129.54" width="1.25" height="1.25" fill="#1a1a1a" opacity="0.8"/>
<rect x="374.78" y="129.54" width="1.25" height="1.25" fill="#1a1a1a" opacity="0.8"/>
<rect x="378.18" y="129.54" width="1.25" height="1.25" fill="#1a1a1a" opacity="0.8"/>
<rect x="381.58" y="129.54" width="1.25" height="1.25" fill="#1a1a1a" opacity="0.8"/>
<rect x="384.98" y="129.54" width="1.25" height="1.25" fill="#1a1a1a" opacity="0.8"/>
<rect x="388.38" y="129.54" width="1.25" height="1.25" fill="#1a1a1a" opacity="0.8"/>
<rect x="391.78" y="129.54" width="1.25" height="1.25" fill="#1a1a1a" opacity="0.8"/>
<rect x="395.18" y="129.54" width="1.25" height="1.25" fill="#1a1a1a" opacity="0.8"/>
<rect x="398.58" y="129.54" width="1.25" height="1.25" fill="#1a1a1a" opacity="0.8"/>
<rect x="401.98" y="129.54" width="1.25" height="1.25" fill="#1a1a1a" opacity="0.8"/>
<rect x="405.38" y="129.54" width="1.25" height="1.25" fill="#1a1a1a" opacity="0.8"/>
<rect x="408.78" y="129.54" width="1.25" height="1.25" fill="#1a1a1a" opacity="0.8"/>
<rect x="412.18" y="129.54" width="1.25" height="1.25" fill="#1a1a1a" opacity="0.8"/>
<rect x="415.58" y="129.54" width="1.25" height="1.25" fill="#1a1a1a" opacity="0.8"/>
<rect x="449.58" y="129.54" width="1.25" height="1.25" fill="#1a1a1a" opacity="0.8"/>
<rect x="452.98" y="129.54" width="1.25" height="1.25" fill="#1a1a1a" opacity="0.8"/>
<rect x="456.38" y="129.54" width="1.25" height="1.25" fill="#1a1a1a" opacity="0.8"/>
<rect x="459.78" y="129.54" width="1.25" height="1.25" fill="#1a1a1a" opacity="0.8"/>
<rect x="463.18" y="129.54" width="1.25" height="1.25" fill="#1a1a1a" opacity="0.8"/>
<rect x="466.58" y="129.54" width="1.25" height="1.25" fill="#1a1a1a" opacity="0.8"/>
<rect x="469.98" y="129.54" width="1.25" height="1.25" fill="#1a1a1a" opacity="0.8"/>
<rect x="473.38" y="129.54" width="1.25" height="1.25" fill="#1a1a1a" opacity="0.8"/>
<rect x="476.78" y="129.54" width="1.25" height="1.25" fill="#1a1a1a" opacity="0.8"/>
<rect x="480.18" y="129.54" width="1.25" height="1.25" fill="#1a1a1a" opacity="0.8"/>
<rect x="483.58" y="129.54" width="1.25" height="1.25" fill="#1a1a1a" opacity="0.8"/>
<rect x="486.98" y="129.54" width="1.25" height="1.25" fill="#1a1a1a" opacity="0.8"/>
<rect x="361.18" y="133.01" width="1.25" height="1.25" fill="#1a1a1a" opacity="0.8"/>
<rect x="364.58" y="133.01" width="1.25" height="1.25" fill="#1a1a1a" opacity="0.8"/>
<rect x="367.98" y="133.01" width="1.25" height="1.25" fill="#1a1a1a" opacity="0.8"/>
<rect x="371.38" y="133.01" width="1.25" height="1.25" fill="#1a1a1a" opacity="0.8"/>
<rect x="374.78" y="133.01" width="1.25" height="1.25" fill="#1a1a1a" opacity="0.8"/>
<rect x="378.18" y="133.01" width="1.25" height="1.25" fill="#1a1a1a" opacity="0.8"/>
<rect x="381.58" y="133.01" width="1.25" height="1.25" fill="#1a1a1a" opacity="0.8"/>
<rect x="384.98" y="133.01" width="1.25" height="1.25" fill="#1a1a1a" opacity="0.8"/>
<rect x="388.38" y="133.01" width="1.25" height="1.25" fill="#1a1a1a" opacity="0.8"/>
<rect x="391.78" y="133.01" width="1.25" height="1.25" fill="#1a1a1a" opacity="0.8"/>
<rect x="395.18" y="133.01" width="1.25" height="1.25" fill="#1a1a1a" opacity="0.8"/>
<rect x="398.58" y="133.01" width="1.25" height="1.25" fill="#1a1a1a" opacity="0.8"/>
<rect x="401.98" y="133.01" width="1.25" height="1.25" fill="#1a1a1a" opacity="0.8"/>
<rect x="405.38" y="133.01" width="1.25" height="1.25" fill="#1a1a1a" opacity="0.8"/>
<rect x="408.78" y="133.01" width="1.25" height="1.25" fill="#1a1a1a" opacity="0.8"/>
<rect x="412.18" y="133.01" width="1.25" height="1.25" fill="#1a1a1a" opacity="0.8"/>
<rect x="415.58" y="133.01" width="1.25" height="1.25" fill="#1a1a1a" opacity="0.8"/>
<rect x="452.98" y="133.01" width="1.25" height="1.25" fill="#1a1a1a" opacity="0.8"/>
<rect x="456.38" y="133.01" width="1.25" height="1.25" fill="#1a1a1a" opacity="0.8"/>
<rect x="469.98" y="133.01" width="1.25" height="1.25" fill="#1a1a1a" opacity="0.8"/>
<rect x="473.38" y="133.01" width="1.25" height="1.25" fill="#1a1a1a" opacity="0.8"/>
<rect x="476.78" y="133.01" width="1.25" height="1.25" fill="#1a1a1a" opacity="0.8"/>
<rect x="480.18" y="133.01" width="1.25" height="1.25" fill="#1a1a1a" opacity="0.8"/>
<rect x="483.58" y="133.01" width="1.25" height="1.25" fill="#1a1a1a" opacity="0.8"/>
<rect x="486.98" y="133.01" width="1.25" height="1.25" fill="#1a1a1a" opacity="0.8"/>
<rect x="490.38" y="133.01" width="1.25" height="1.25" fill="#1a1a1a" opacity="0.8"/>
<rect x="361.18" y="136.48" width="1.25" height="1.25" fill="#1a1a1a" opacity="0.8"/>
<rect x="364.58" y="136.48" width="1.25" height="1.25" fill="#1a1a1a" opacity="0.8"/>
<rect x="367.98" y="136.48" width="1.25" height="1.25" fill="#1a1a1a" opacity="0.8"/>
<rect x="371.38" y="136.48" width="1.25" height="1.25" fill="#1a1a1a" opacity="0.8"/>
<rect x="374.78" y="136.48" width="1.25" height="1.25" fill="#1a1a1a" opacity="0.8"/>
<rect x="378.18" y="136.48" width="1.25" height="1.25" fill="#1a1a1a" opacity="0.8"/>
<rect x="381.58" y="136.48" width="1.25" height="1.25" fill="#1a1a1a" opacity="0.8"/>
<rect x="384.98" y="136.48" width="1.25" height="1.25" fill="#1a1a1a" opacity="0.8"/>
<rect x="388.38" y="136.48" width="1.25" height="1.25" fill="#1a1a1a" opacity="0.8"/>
<rect x="391.78" y="136.48" width="1.25" height="1.25" fill="#1a1a1a" opacity="0.8"/>
<rect x="395.18" y="136.48" width="1.25" height="1.25" fill="#1a1a1a" opacity="0.8"/>
<rect x="398.58" y="136.48" width="1.25" height="1.25" fill="#1a1a1a" opacity="0.8"/>
<rect x="401.98" y="136.48" width="1.25" height="1.25" fill="#1a1a1a" opacity="0.8"/>
<rect x="405.38" y="136.48" width="1.25" height="1.25" fill="#1a1a1a" opacity="0.8"/>
<rect x="408.78" y="136.48" width="1.25" height="1.25" fill="#1a1a1a" opacity="0.8"/>
<rect x="412.18" y="136.48" width="1.25" height="1.25" fill="#1a1a1a" opacity="0.8"/>
<rect x="415.58" y="136.48" width="1.25" height="1.25" fill="#1a1a1a" opacity="0.8"/>
<rect x="418.98" y="136.48" width="1.25" height="1.25" fill="#1a1a1a" opacity="0.8"/>
<rect x="425.78" y="136.48" width="1.25" height="1.25" fill="#1a1a1a" opacity="0.8"/>
<rect x="432.58" y="136.48" width="1.25" height="1.25" fill="#1a1a1a" opacity="0.8"/>
<rect x="439.38" y="136.48" width="1.25" height="1.25" fill="#1a1a1a" opacity="0.8"/>
<rect x="442.78" y="136.48" width="1.25" height="1.25" fill="#1a1a1a" opacity="0.8"/>
<rect x="449.58" y="136.48" width="1.25" height="1.25" fill="#1a1a1a" opacity="0.8"/>
<rect x="476.78" y="136.48" width="1.25" height="1.25" fill="#1a1a1a" opacity="0.8"/>
<rect x="480.18" y="136.48" width="1.25" height="1.25" fill="#1a1a1a" opacity="0.8"/>
<rect x="483.58" y="136.48" width="1.25" height="1.25" fill="#1a1a1a" opacity="0.8"/>
<rect x="486.98" y="136.48" width="1.25" height="1.25" fill="#1a1a1a" opacity="0.8"/>
<rect x="490.38" y="136.48" width="1.25" height="1.25" fill="#1a1a1a" opacity="0.8"/>
<rect x="361.18" y="139.95" width="1.25" height="1.25" fill="#1a1a1a" opacity="0.8"/>
<rect x="364.58" y="139.95" width="1.25" height="1.25" fill="#1a1a1a" opacity="0.8"/>
<rect x="367.98" y="139.95" width="1.25" height="1.25" fill="#1a1a1a" opacity="0.8"/>
<rect x="371.38" y="139.95" width="1.25" height="1.25" fill="#1a1a1a" opacity="0.8"/>
<rect x="374.78" y="139.95" width="1.25" height="1.25" fill="#1a1a1a" opacity="0.8"/>
<rect x="378.18" y="139.95" width="1.25" height="1.25" fill="#1a1a1a" opacity="0.8"/>
<rect x="381.58" y="139.95" width="1.25" height="1.25" fill="#1a1a1a" opacity="0.8"/>
<rect x="384.98" y="139.95" width="1.25" height="1.25" fill="#1a1a1a" opacity="0.8"/>
<rect x="388.38" y="139.95" width="1.25" height="1.25" fill="#1a1a1a" opacity="0.8"/>
<rect x="391.78" y="139.95" width="1.25" height="1.25" fill="#1a1a1a" opacity="0.8"/>
<rect x="395.18" y="139.95" width="1.25" height="1.25" fill="#1a1a1a" opacity="0.8"/>
<rect x="398.58" y="139.95" width="1.25" height="1.25" fill="#1a1a1a" opacity="0.8"/>
<rect x="401.98" y="139.95" width="1.25" height="1.25" fill="#1a1a1a" opacity="0.8"/>
<rect x="405.38" y="139.95" width="1.25" height="1.25" fill="#1a1a1a" opacity="0.8"/>
<rect x="408.78" y="139.95" width="1.25" height="1.25" fill="#1a1a1a" opacity="0.8"/>
<rect x="412.18" y="139.95" width="1.25" height="1.25" fill="#1a1a1a" opacity="0.8"/>
<rect x="415.58" y="139.95" width="1.25" height="1.25" fill="#1a1a1a" opacity="0.8"/>
<rect x="432.58" y="139.95" width="1.25" height="1.25" fill="#1a1a1a" opacity="0.8"/>
<rect x="439.38" y="139.95" width="1.25" height="1.25" fill="#1a1a1a" opacity="0.8"/>
<rect x="442.78" y="139.95" width="1.25" height="1.25" fill="#1a1a1a" opacity="0.8"/>
<rect x="446.18" y="139.95" width="1.25" height="1.25" fill="#1a1a1a" opacity="0.8"/>
<rect x="449.58" y="139.95" width="1.25" height="1.25" fill="#1a1a1a" opacity="0.8"/>
<rect x="452.98" y="139.95" width="1.25" height="1.25" fill="#1a1a1a" opacity="0.8"/>
<rect x="476.78" y="139.95" width="1.25" height="1.25" fill="#1a1a1a" opacity="0.8"/>
<rect x="483.58" y="139.95" width="1.25" height="1.25" fill="#1a1a1a" opacity="0.8"/>
<rect x="486.98" y="139.95" width="1.25" height="1.25" fill="#1a1a1a" opacity="0.8"/>
<rect x="490.38" y="139.95" width="1.25" height="1.25" fill="#1a1a1a" opacity="0.8"/>
<rect x="493.78" y="139.95" width="1.25" height="1.25" fill="#1a1a1a" opacity="0.8"/>
<rect x="361.18" y="143.42" width="1.25" height="1.25" fill="#1a1a1a" opacity="0.8"/>
<rect x="364.58" y="143.42" width="1.25" height="1.25" fill="#1a1a1a" opacity="0.8"/>
<rect x="367.98" y="143.42" width="1.25" height="1.25" fill="#1a1a1a" opacity="0.8"/>
<rect x="371.38" y="143.42" width="1.25" height="1.25" fill="#1a1a1a" opacity="0.8"/>
<rect x="374.78" y="143.42" width="1.25" height="1.25" fill="#1a1a1a" opacity="0.8"/>
<rect x="378.18" y="143.42" width="1.25" height="1.25" fill="#1a1a1a" opacity="0.8"/>
<rect x="381.58" y="143.42" width="1.25" height="1.25" fill="#1a1a1a" opacity="0.8"/>
<rect x="384.98" y="143.42" width="1.25" height="1.25" fill="#1a1a1a" opacity="0.8"/>
<rect x="388.38" y="143.42" width="1.25" height="1.25" fill="#1a1a1a" opacity="0.8"/>
<rect x="391.78" y="143.42" width="1.25" height="1.25" fill="#1a1a1a" opacity="0.8"/>
<rect x="395.18" y="143.42" width="1.25" height="1.25" fill="#1a1a1a" opacity="0.8"/>
<rect x="398.58" y="143.42" width="1.25" height="1.25" fill="#1a1a1a" opacity="0.8"/>
<rect x="401.98" y="143.42" width="1.25" height="1.25" fill="#1a1a1a" opacity="0.8"/>
<rect x="405.38" y="143.42" width="1.25" height="1.25" fill="#1a1a1a" opacity="0.8"/>
<rect x="408.78" y="143.42" width="1.25" height="1.25" fill="#1a1a1a" opacity="0.8"/>
<rect x="412.18" y="143.42" width="1.25" height="1.25" fill="#1a1a1a" opacity="0.8"/>
<rect x="415.58" y="143.42" width="1.25" height="1.25" fill="#1a1a1a" opacity="0.8"/>
<rect x="418.98" y="143.42" width="1.25" height="1.25" fill="#1a1a1a" opacity="0.8"/>
<rect x="425.78" y="143.42" width="1.25" height="1.25" fill="#1a1a1a" opacity="0.8"/>
<rect x="429.18" y="143.42" width="1.25" height="1.25" fill="#1a1a1a" opacity="0.8"/>
<rect x="442.78" y="143.42" width="1.25" height="1.25" fill="#1a1a1a" opacity="0.8"/>
<rect x="446.18" y="143.42" width="1.25" height="1.25" fill="#1a1a1a" opacity="0.8"/>
<rect x="449.58" y="143.42" width="1.25" height="1.25" fill="#1a1a1a" opacity="0.8"/>
<rect x="452.98" y="143.42" width="1.25" height="1.25" fill="#1a1a1a" opacity="0.8"/>
<rect x="456.38" y="143.42" width="1.25" height="1.25" fill="#1a1a1a" opacity="0.8"/>
<rect x="486.98" y="143.42" width="1.25" height="1.25" fill="#1a1a1a" opacity="0.8"/>
<rect x="490.38" y="143.42" width="1.25" height="1.25" fill="#1a1a1a" opacity="0.8"/>
<rect x="493.78" y="143.42" width="1.25" height="1.25" fill="#1a1a1a" opacity="0.8"/>
<rect x="361.18" y="146.89" width="1.25" height="1.25" fill="#1a1a1a" opacity="0.8"/>
<rect x="364.58" y="146.89" width="1.25" height="1.25" fill="#1a1a1a" opacity="0.8"/>
<rect x="367.98" y="146.89" width="1.25" height="1.25" fill="#1a1a1a" opacity="0.8"/>
<rect x="371.38" y="146.89" width="1.25" height="1.25" fill="#1a1a1a" opacity="0.8"/>
<rect x="374.78" y="146.89" width="1.25" height="1.25" fill="#1a1a1a" opacity="0.8"/>
<rect x="378.18" y="146.89" width="1.25" height="1.25" fill="#1a1a1a" opacity="0.8"/>
<rect x="381.58" y="146.89" width="1.25" height="1.25" fill="#1a1a1a" opacity="0.8"/>
<rect x="384.98" y="146.89" width="1.25" height="1.25" fill="#1a1a1a" opacity="0.8"/>
<rect x="388.38" y="146.89" width="1.25" height="1.25" fill="#1a1a1a" opacity="0.8"/>
<rect x="391.78" y="146.89" width="1.25" height="1.25" fill="#1a1a1a" opacity="0.8"/>
<rect x="395.18" y="146.89" width="1.25" height="1.25" fill="#1a1a1a" opacity="0.8"/>
<rect x="398.58" y="146.89" width="1.25" height="1.25" fill="#1a1a1a" opacity="0.8"/>
<rect x="401.98" y="146.89" width="1.25" height="1.25" fill="#1a1a1a" opacity="0.8"/>
<rect x="405.38" y="146.89" width="1.25" height="1.25" fill="#1a1a1a" opacity="0.8"/>
<rect x="408.78" y="146.89" width="1.25" height="1.25" fill="#1a1a1a" opacity="0.8"/>
<rect x="412.18" y="146.89" width="1.25" height="1.25" fill="#1a1a1a" opacity="0.8"/>
<rect x="415.58" y="146.89" width="1.25" height="1.25" fill="#1a1a1a" opacity="0.8"/>
<rect x="418.98" y="146.89" width="1.25" height="1.25" fill="#1a1a1a" opacity="0.8"/>
<rect x="442.78" y="146.89" width="1.25" height="1.25" fill="#1a1a1a" opacity="0.8"/>
<rect x="446.18" y="146.89" width="1.25" height="1.25" fill="#1a1a1a" opacity="0.8"/>
<rect x="449.58" y="146.89" width="1.25" height="1.25" fill="#1a1a1a" opacity="0.8"/>
<rect x="452.98" y="146.89" width="1.25" height="1.25" fill="#1a1a1a" opacity="0.8"/>
<rect x="456.38" y="146.89" width="1.25" height="1.25" fill="#1a1a1a" opacity="0.8"/>
<rect x="463.18" y="146.89" width="1.25" height="1.25" fill="#1a1a1a" opacity="0.8"/>
<rect x="486.98" y="146.89" width="1.25" height="1.25" fill="#1a1a1a" opacity="0.8"/>
<rect x="490.38" y="146.89" width="1.25" height="1.25" fill="#1a1a1a" opacity="0.8"/>
<rect x="493.78" y="146.89" width="1.25" height="1.25" fill="#1a1a1a" opacity="0.8"/>
<rect x="361.18" y="150.36" width="1.25" height="1.25" fill="#1a1a1a" opacity="0.8"/>
<rect x="364.58" y="150.36" width="1.25" height="1.25" fill="#1a1a1a" opacity="0.8"/>
<rect x="367.98" y="150.36" width="1.25" height="1.25" fill="#1a1a1a" opacity="0.8"/>
<rect x="371.38" y="150.36" width="1.25" height="1.25" fill="#1a1a1a" opacity="0.8"/>
<rect x="374.78" y="150.36" width="1.25" height="1.25" fill="#1a1a1a" opacity="0.8"/>
<rect x="378.18" y="150.36" width="1.25" height="1.25" fill="#1a1a1a" opacity="0.8"/>
<rect x="381.58" y="150.36" width="1.25" height="1.25" fill="#1a1a1a" opacity="0.8"/>
<rect x="384.98" y="150.36" width="1.25" height="1.25" fill="#1a1a1a" opacity="0.8"/>
<rect x="388.38" y="150.36" width="1.25" height="1.25" fill="#1a1a1a" opacity="0.8"/>
<rect x="391.78" y="150.36" width="1.25" height="1.25" fill="#1a1a1a" opacity="0.8"/>
<rect x="395.18" y="150.36" width="1.25" height="1.25" fill="#1a1a1a" opacity="0.8"/>
<rect x="398.58" y="150.36" width="1.25" height="1.25" fill="#1a1a1a" opacity="0.8"/>
<rect x="401.98" y="150.36" width="1.25" height="1.25" fill="#1a1a1a" opacity="0.8"/>
<rect x="405.38" y="150.36" width="1.25" height="1.25" fill="#1a1a1a" opacity="0.8"/>
<rect x="408.78" y="150.36" width="1.25" height="1.25" fill="#1a1a1a" opacity="0.8"/>
<rect x="412.18" y="150.36" width="1.25" height="1.25" fill="#1a1a1a" opacity="0.8"/>
<rect x="415.58" y="150.36" width="1.25" height="1.25" fill="#1a1a1a" opacity="0.8"/>
<rect x="442.78" y="150.36" width="1.25" height="1.25" fill="#1a1a1a" opacity="0.8"/>
<rect x="446.18" y="150.36" width="1.25" height="1.25" fill="#1a1a1a" opacity="0.8"/>
<rect x="452.98" y="150.36" width="1.25" height="1.25" fill="#1a1a1a" opacity="0.8"/>
<rect x="456.38" y="150.36" width="1.25" height="1.25" fill="#1a1a1a" opacity="0.8"/>
<rect x="459.78" y="150.36" width="1.25" height="1.25" fill="#1a1a1a" opacity="0.8"/>
<rect x="466.58" y="150.36" width="1.25" height="1.25" fill="#1a1a1a" opacity="0.8"/>
<rect x="469.98" y="150.36" width="1.25" height="1.25" fill="#1a1a1a" opacity="0.8"/>
<rect x="473.38" y="150.36" width="1.25" height="1.25" fill="#1a1a1a" opacity="0.8"/>
<rect x="480.18" y="150.36" width="1.25" height="1.25" fill="#1a1a1a" opacity="0.8"/>
<rect x="483.58" y="150.36" width="1.25" height="1.25" fill="#1a1a1a" opacity="0.8"/>
<rect x="490.38" y="150.36" width="1.25" height="1.25" fill="#1a1a1a" opacity="0.8"/>
</g>
<path d="M92.8 85.3H109.9M101.3 76.5V94.1" stroke="#000" stroke-opacity="0.55" stroke-width="0.8" fill="none"/>
<rect x="33.05" y="15.65" width="136.6" height="138.79999999999998" fill="none" stroke="#777" stroke-width="0.6"/>
<text x="46.7" y="163.7" font-size="9.8" text-anchor="middle" font-weight="normal" fill="#111" >-4°</text>
<text x="30.3" y="144.2" font-size="10.1" text-anchor="end" font-weight="normal" fill="#111" >-4°</text>
<text x="74.0" y="163.7" font-size="9.8" text-anchor="middle" font-weight="normal" fill="#111" >-2°</text>
<text x="30.3" y="116.4" font-size="10.1" text-anchor="end" font-weight="normal" fill="#111" >-2°</text>
<text x="101.3" y="163.7" font-size="9.8" text-anchor="middle" font-weight="normal" fill="#111" >0°</text>
<text x="30.3" y="88.6" font-size="10.1" text-anchor="end" font-weight="normal" fill="#111" >0°</text>
<text x="128.7" y="163.7" font-size="9.8" text-anchor="middle" font-weight="normal" fill="#111" >+2°</text>
<text x="30.3" y="60.9" font-size="10.1" text-anchor="end" font-weight="normal" fill="#111" >+2°</text>
<text x="156.0" y="163.7" font-size="9.8" text-anchor="middle" font-weight="normal" fill="#111" >+4°</text>
<text x="30.3" y="33.1" font-size="10.1" text-anchor="end" font-weight="normal" fill="#111" >+4°</text>
<path d="M46.7 154.4v2.2M33.0 140.6h-2.2M74.0 154.4v2.2M33.0 112.8h-2.2M101.3 154.4v2.2M33.0 85.0h-2.2M128.7 154.4v2.2M33.0 57.3h-2.2M156.0 154.4v2.2M33.0 29.5h-2.2" stroke="#444" stroke-width="0.6"/>
<path d="M255.3 85.3H272.5M263.9 76.5V94.1" stroke="#000" stroke-opacity="0.55" stroke-width="0.8" fill="none"/>
<rect x="196.05" y="15.65" width="135.6" height="138.79999999999998" fill="none" stroke="#777" stroke-width="0.6"/>
<text x="209.6" y="163.7" font-size="9.8" text-anchor="middle" font-weight="normal" fill="#111" >-4°</text>
<text x="193.4" y="144.2" font-size="10.1" text-anchor="end" font-weight="normal" fill="#111" >-4°</text>
<text x="236.7" y="163.7" font-size="9.8" text-anchor="middle" font-weight="normal" fill="#111" >-2°</text>
<text x="193.4" y="116.4" font-size="10.1" text-anchor="end" font-weight="normal" fill="#111" >-2°</text>
<text x="263.9" y="163.7" font-size="9.8" text-anchor="middle" font-weight="normal" fill="#111" >0°</text>
<text x="193.4" y="88.6" font-size="10.1" text-anchor="end" font-weight="normal" fill="#111" >0°</text>
<text x="291.0" y="163.7" font-size="9.8" text-anchor="middle" font-weight="normal" fill="#111" >+2°</text>
<text x="193.4" y="60.9" font-size="10.1" text-anchor="end" font-weight="normal" fill="#111" >+2°</text>
<text x="318.1" y="163.7" font-size="9.8" text-anchor="middle" font-weight="normal" fill="#111" >+4°</text>
<text x="193.4" y="33.1" font-size="10.1" text-anchor="end" font-weight="normal" fill="#111" >+4°</text>
<path d="M209.6 154.4v2.2M196.1 140.6h-2.2M236.7 154.4v2.2M196.1 112.8h-2.2M263.9 154.4v2.2M196.1 85.0h-2.2M291.0 154.4v2.2M196.1 57.3h-2.2M318.1 154.4v2.2M196.1 29.5h-2.2" stroke="#444" stroke-width="0.6"/>
<path d="M417.8 85.3H435.0M426.4 76.5V94.1" stroke="#000" stroke-opacity="0.55" stroke-width="0.8" fill="none"/>
<rect x="358.4" y="15.65" width="136.0" height="138.79999999999998" fill="none" stroke="#777" stroke-width="0.6"/>
<text x="372.0" y="163.7" font-size="9.8" text-anchor="middle" font-weight="normal" fill="#111" >-4°</text>
<text x="355.7" y="144.2" font-size="10.1" text-anchor="end" font-weight="normal" fill="#111" >-4°</text>
<text x="399.2" y="163.7" font-size="9.8" text-anchor="middle" font-weight="normal" fill="#111" >-2°</text>
<text x="355.7" y="116.4" font-size="10.1" text-anchor="end" font-weight="normal" fill="#111" >-2°</text>
<text x="426.4" y="163.7" font-size="9.8" text-anchor="middle" font-weight="normal" fill="#111" >0°</text>
<text x="355.7" y="88.6" font-size="10.1" text-anchor="end" font-weight="normal" fill="#111" >0°</text>
<text x="453.6" y="163.7" font-size="9.8" text-anchor="middle" font-weight="normal" fill="#111" >+2°</text>
<text x="355.7" y="60.9" font-size="10.1" text-anchor="end" font-weight="normal" fill="#111" >+2°</text>
<text x="480.8" y="163.7" font-size="9.8" text-anchor="middle" font-weight="normal" fill="#111" >+4°</text>
<text x="355.7" y="33.1" font-size="10.1" text-anchor="end" font-weight="normal" fill="#111" >+4°</text>
<path d="M372.0 154.4v2.2M358.4 140.6h-2.2M399.2 154.4v2.2M358.4 112.8h-2.2M426.4 154.4v2.2M358.4 85.0h-2.2M453.6 154.4v2.2M358.4 57.3h-2.2M480.8 154.4v2.2M358.4 29.5h-2.2" stroke="#444" stroke-width="0.6"/>
<text x="101.3" y="13.5" font-size="12.2" text-anchor="middle" font-weight="bold" fill="#000" textLength="33.6" lengthAdjust="spacingAndGlyphs">WETC</text>
<text x="263.9" y="13.5" font-size="12.2" text-anchor="middle" font-weight="bold" fill="#000" textLength="29.6" lengthAdjust="spacingAndGlyphs">SETC</text>
<text x="426.4" y="13.5" font-size="12.2" text-anchor="middle" font-weight="bold" fill="#000" textLength="35.2" lengthAdjust="spacingAndGlyphs">DWCC</text>
<rect x="158.90" y="176.4" width="42.32" height="11.6" fill="#14306b"/>
<rect x="200.92" y="176.4" width="42.32" height="11.6" fill="#6a3f9f"/>
<rect x="242.94" y="176.4" width="42.32" height="11.6" fill="#ab5e85"/>
<rect x="284.96" y="176.4" width="42.32" height="11.6" fill="#f2844f"/>
<rect x="326.98" y="176.4" width="42.32" height="11.6" fill="#f8cd45"/>
<polygon points="159.20000000000002,176.4 148.3,182.2 159.20000000000002,188.0" fill="#0b2436"/>
<polygon points="368.7,176.4 379.1,182.2 368.7,188.0" fill="#e3f55c"/>
<polygon points="148.3,182.2 158.9,176.4 369.0,176.4 379.1,182.2 369.0,188.0 158.9,188.0" fill="none" stroke="#666" stroke-width="0.5"/>
<path d="M158.9 188.0v1.8" stroke="#444" stroke-width="0.6"/>
<text x="158.9" y="197.4" font-size="9.1" text-anchor="middle" font-weight="normal" fill="#111" >288.5</text>
<path d="M200.9 188.0v1.8" stroke="#444" stroke-width="0.6"/>
<text x="200.9" y="197.4" font-size="9.1" text-anchor="middle" font-weight="normal" fill="#111" >289.7</text>
<path d="M242.9 188.0v1.8" stroke="#444" stroke-width="0.6"/>
<text x="242.9" y="197.4" font-size="9.1" text-anchor="middle" font-weight="normal" fill="#111" >290.9</text>
<path d="M285.0 188.0v1.8" stroke="#444" stroke-width="0.6"/>
<text x="285.0" y="197.4" font-size="9.1" text-anchor="middle" font-weight="normal" fill="#111" >292.1</text>
<path d="M327.0 188.0v1.8" stroke="#444" stroke-width="0.6"/>
<text x="327.0" y="197.4" font-size="9.1" text-anchor="middle" font-weight="normal" fill="#111" >293.3</text>
<path d="M369.0 188.0v1.8" stroke="#444" stroke-width="0.6"/>
<text x="369.0" y="197.4" font-size="9.1" text-anchor="middle" font-weight="normal" fill="#111" >294.5</text>
<text x="264.4" y="206.9" font-size="9.6" text-anchor="middle" font-weight="normal" fill="#111" >K</text>
<line x1="33.4" y1="292.0" x2="494.4" y2="292.0" stroke="#e4e4e4" stroke-width="0.6" stroke-dasharray="1.5,1.2"/>
<line x1="33.4" y1="269.9" x2="494.4" y2="269.9" stroke="#e4e4e4" stroke-width="0.6" stroke-dasharray="1.5,1.2"/>
<line x1="33.4" y1="247.8" x2="494.4" y2="247.8" stroke="#e4e4e4" stroke-width="0.6" stroke-dasharray="1.5,1.2"/>
<line x1="33.4" y1="225.7" x2="494.4" y2="225.7" stroke="#e4e4e4" stroke-width="0.6" stroke-dasharray="1.5,1.2"/>
<rect x="33.4" y="212.3" width="461.0" height="101.80000000000001" fill="none" stroke="#b3b3b3" stroke-width="0.9"/>
<path d="M33.4 314.1h-2" stroke="#555" stroke-width="0.6"/>
<text x="30.3" y="317.7" font-size="9.9" text-anchor="end" font-weight="normal" fill="#111" >280</text>
<path d="M33.4 292.0h-2" stroke="#555" stroke-width="0.6"/>
<text x="30.3" y="295.6" font-size="9.9" text-anchor="end" font-weight="normal" fill="#111" >285</text>
<path d="M33.4 269.9h-2" stroke="#555" stroke-width="0.6"/>
<text x="30.3" y="273.4" font-size="9.9" text-anchor="end" font-weight="normal" fill="#111" >290</text>
<path d="M33.4 247.8h-2" stroke="#555" stroke-width="0.6"/>
<text x="30.3" y="251.4" font-size="9.9" text-anchor="end" font-weight="normal" fill="#111" >295</text>
<path d="M33.4 225.7h-2" stroke="#555" stroke-width="0.6"/>
<text x="30.3" y="229.2" font-size="9.9" text-anchor="end" font-weight="normal" fill="#111" >300</text>
<text x="0" y="0" font-size="9.9" text-anchor="middle" font-weight="normal" fill="#111" transform="translate(11.4,264.2) rotate(-90)">K</text>
<path d="M110.3 239.2V224.4M98.7 224.4H121.89999999999999M110.3 270.2V279.1M98.7 279.1H121.89999999999999" stroke="#333" stroke-width="0.85" fill="none"/>
<rect x="87.3" y="239.2" width="45.9" height="31.0" fill="#65a0d0" stroke="#4a7fae" stroke-width="0.8"/>
<line x1="87.3" y1="258.5" x2="133.2" y2="258.5" stroke="#1a1a1a" stroke-width="1.0"/>
<path d="M264.1 263.5V253.4M252.50000000000003 253.4H275.70000000000005M264.1 271.1V277.4M252.50000000000003 277.4H275.70000000000005" stroke="#333" stroke-width="0.85" fill="none"/>
<rect x="240.8" y="263.5" width="46.6" height="7.6" fill="#4a48f0" stroke="#3535c0" stroke-width="0.8"/>
<line x1="240.8" y1="268.6" x2="287.4" y2="268.6" stroke="#101040" stroke-width="1.0"/>
<path d="M417.5 241.1V222.4M405.9 222.4H429.1M417.5 271.1V278.5M405.9 278.5H429.1" stroke="#333" stroke-width="0.85" fill="none"/>
<rect x="394.4" y="241.1" width="46.2" height="30.0" fill="#e4646c" stroke="#b94c54" stroke-width="0.8"/>
<line x1="394.4" y1="260.1" x2="440.6" y2="260.1" stroke="#2a1012" stroke-width="1.0"/>
<rect x="109.7" y="216.20000000000002" width="1.2" height="1.2" fill="#222"/>
<rect x="109.7" y="221.0" width="1.2" height="1.2" fill="#222"/>
<rect x="109.7" y="222.6" width="1.2" height="1.2" fill="#222"/>
<rect x="109.7" y="280.0" width="1.2" height="1.2" fill="#222"/>
<rect x="109.7" y="282.0" width="1.2" height="1.2" fill="#222"/>
<rect x="109.7" y="284.09999999999997" width="1.2" height="1.2" fill="#222"/>
<rect x="109.7" y="286.4" width="1.2" height="1.2" fill="#222"/>
<rect x="109.7" y="288.7" width="1.2" height="1.2" fill="#222"/>
<rect x="109.7" y="299.4" width="1.2" height="1.2" fill="#222"/>
<rect x="109.7" y="302.29999999999995" width="1.2" height="1.2" fill="#222"/>
<rect x="109.7" y="308.59999999999997" width="1.2" height="1.2" fill="#222"/>
<rect x="263.5" y="221.4" width="1.2" height="1.2" fill="#222"/>
<rect x="263.5" y="226.4" width="1.2" height="1.2" fill="#222"/>
<rect x="263.5" y="238.1" width="1.2" height="1.2" fill="#222"/>
<rect x="263.5" y="280.9" width="1.2" height="1.2" fill="#222"/>
<rect x="263.5" y="286.2" width="1.2" height="1.2" fill="#222"/>
<rect x="416.9" y="218.3" width="1.2" height="1.2" fill="#222"/>
<rect x="416.9" y="220.4" width="1.2" height="1.2" fill="#222"/>
<rect x="416.9" y="281.2" width="1.2" height="1.2" fill="#222"/>
<rect x="416.9" y="288.29999999999995" width="1.2" height="1.2" fill="#222"/>
<path d="M110.3 314.1v2" stroke="#555" stroke-width="0.6"/>
<text x="110.3" y="323.7" font-size="9.7" text-anchor="middle" font-weight="normal" fill="#111" textLength="24.8" lengthAdjust="spacingAndGlyphs">WETC</text>
<path d="M264.1 314.1v2" stroke="#555" stroke-width="0.6"/>
<text x="264.1" y="323.7" font-size="9.7" text-anchor="middle" font-weight="normal" fill="#111" textLength="24.8" lengthAdjust="spacingAndGlyphs">SETC</text>
<path d="M417.5 314.1v2" stroke="#555" stroke-width="0.6"/>
<text x="417.5" y="323.7" font-size="9.7" text-anchor="middle" font-weight="normal" fill="#111" textLength="24.8" lengthAdjust="spacingAndGlyphs">DWCC</text>
</svg>
</body></html>
